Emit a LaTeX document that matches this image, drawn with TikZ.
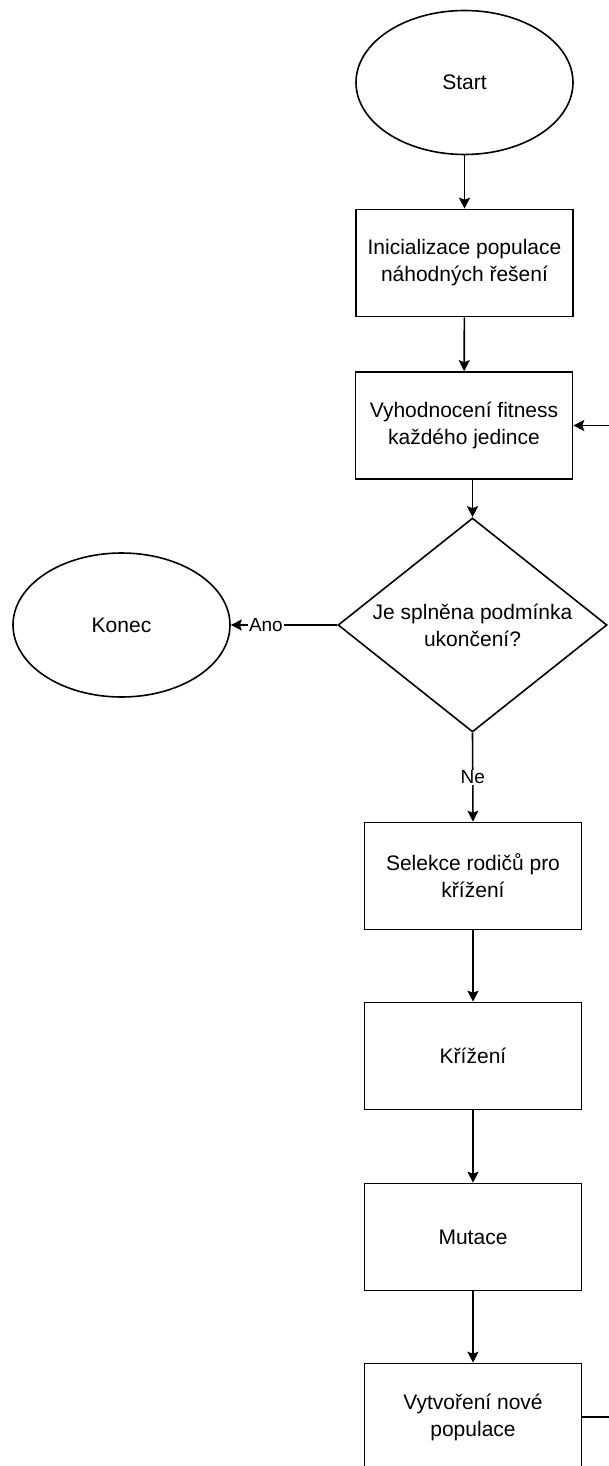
\documentclass[tikz,border=0pt]{standalone}
\usepackage{fontspec}
\setmainfont{Liberation Sans}
\usetikzlibrary{shapes.geometric}
\usetikzlibrary{arrows.meta}
\tikzset{%
    krok/.style={draw,rectangle,line width=1.6pt,inner sep=0pt,minimum width=217pt,minimum height=107pt,align=center,font=\fontsize{21}{27}\selectfont},
    oval/.style={draw,ellipse,line width=1.6pt,inner sep=0pt,minimum width=217pt,minimum height=144pt,align=center,font=\fontsize{21}{27}\selectfont},
    rozh/.style={draw,diamond,shape aspect=1.257,line width=1.6pt,inner sep=0pt,minimum width=269pt,minimum height=214pt,align=center,font=\fontsize{21}{27}\selectfont},
    sip/.style={line width=1.6pt,-{Stealth[length=11pt,width=11pt,inset=2pt]}},
    popis/.style={fill=white,inner sep=1pt,font=\fontsize{19}{23}\selectfont}
}
\begin{document}
\begin{tikzpicture}[x=1pt,y=-1pt]
        \useasboundingbox (0,0) rectangle (608,1466);
        \node[oval] (start) at (464.5,82.5) {Start};
        \node[krok] (init) at (464.5,263) {Inicializace populace\\náhodných řešení};
        \node[krok] (fit) at (464,425.5) {Vyhodnocení fitness\\každého jedince};
        \node[rozh] (dec) at (472.5,625) {Je splněna podmínka\\ukončení?};
        \node[oval] (konec) at (121.5,625) {Konec};
        \node[krok] (sel) at (473,876) {Selekce rodičů pro\\křížení};
        \node[krok] (kriz) at (473,1056) {Křížení};
        \node[krok] (mut) at (473,1237) {Mutace};
        \node[krok] (vyt) at (473,1417) {Vytvoření nové\\populace};

        \draw[sip] (start) -- (init);
        \draw[sip] (init) -- (fit);
        \draw[sip] (fit.south -| dec.north) -- (dec.north);
        \draw[sip] (dec.west) -- node[popis,pos=0.67]{Ano} (konec.east);
        \draw[sip] (dec.south) -- node[popis,pos=0.5]{Ne} (sel.north);
        \draw[sip] (sel) -- (kriz);
        \draw[sip] (kriz) -- (mut);
        \draw[sip] (mut) -- (vyt);
        \draw[sip] (vyt.east) -- ++(40,0) |- (fit.east);
    \end{tikzpicture}
\end{document}
